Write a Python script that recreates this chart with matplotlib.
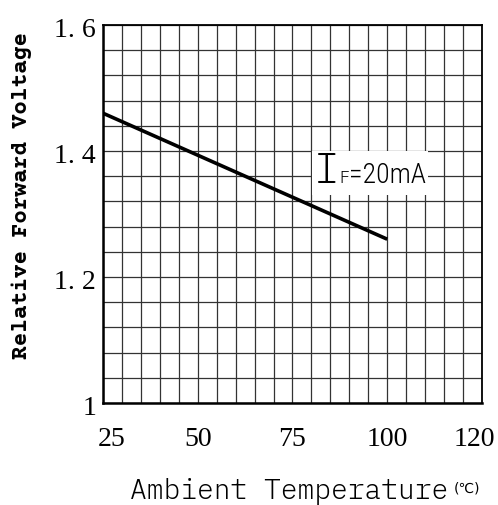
import numpy as np
import matplotlib
matplotlib.use("Agg")
import matplotlib.pyplot as plt
from matplotlib.offsetbox import TextArea, HPacker, AnnotationBbox
from matplotlib.transforms import ScaledTranslation

# data
temp = [25, 100]
rel_vf = [1.46, 1.26]

xticks = [25, 50, 75, 100, 120]
xtick_labels = ["25", "50", "75", "100", "120"]
yticks = [1.0, 1.2, 1.4, 1.6]
ytick_labels = ["1", "1. 2", "1. 4", "1. 6"]

fig = plt.figure(figsize=(4.98, 5.05), dpi=100)
ax = fig.add_axes([0.2068, 0.202, 0.761, 0.7485])

# fine grid: every 5 degC and every 0.04
for xv in np.arange(25, 126, 5):
    ax.axvline(xv, color="#333333", lw=0.9, zorder=1)
for yv in np.arange(1.0, 1.601, 0.04):
    ax.axhline(yv, color="#333333", lw=0.9, zorder=1)

ax.plot(temp, rel_vf, color="black", lw=2.6, solid_capstyle="butt", zorder=3)

ax.set_xlim(25, 125)
ax.set_ylim(1.0, 1.6)

ax.set_xticks(xticks)
ax.set_xticklabels(xtick_labels, fontfamily="Liberation Serif", fontsize=20)
ax.set_yticks(yticks)
ax.set_yticklabels(ytick_labels, fontfamily="Liberation Serif", fontsize=20)
ax.tick_params(axis="x", length=0, pad=17.5)
ax.tick_params(axis="y", length=0, pad=5)

# the drawing has the end labels nudged right
labs = ax.get_xticklabels()
for lab, dx in zip([labs[0], labs[-1]], [9, 11]):
    lab.set_transform(lab.get_transform() + ScaledTranslation(dx / 100, 0, fig.dpi_scale_trans))
for lab in ax.get_yticklabels():
    lab.set_transform(lab.get_transform() + ScaledTranslation(0, -3 / 100, fig.dpi_scale_trans))

for side in ["left", "bottom"]:
    ax.spines[side].set_linewidth(1.8)
for side in ["top", "right"]:
    ax.spines[side].set_linewidth(1.3)

ax.set_ylabel("Relative Forward Voltage", fontfamily="Courier Prime",
              fontweight="bold", fontsize=16.4)
ax.yaxis.set_label_coords(-0.187, 0.548)

fig.text(0.261, 0.012, "Ambient Temperature", fontfamily="IBM Plex Mono",
         fontsize=20.2, fontweight=300, va="baseline", ha="left")
fig.text(0.912, 0.024, "(\u2103)", fontfamily="DejaVu Sans",
         fontsize=10, va="baseline", ha="left")

# I_F=20mA tag with white box over the grid
parts = [
    TextArea("I", textprops=dict(fontfamily="Latin Modern Mono Light", fontsize=35)),
    TextArea("F", textprops=dict(fontfamily="IBM Plex Mono", fontsize=12, fontweight=300)),
    TextArea("=20mA", textprops=dict(fontfamily="Roboto Condensed", fontsize=20, fontweight=300)),
]
tag = HPacker(children=parts, align="baseline", pad=0, sep=0)
ab = AnnotationBbox(tag, (80.6, 1.365), box_alignment=(0, 0.5), frameon=True,
                    pad=0.1, bboxprops=dict(facecolor="white", edgecolor="none"),
                    zorder=4)
ax.add_artist(ab)

fig.savefig("out.png", dpi=100)
